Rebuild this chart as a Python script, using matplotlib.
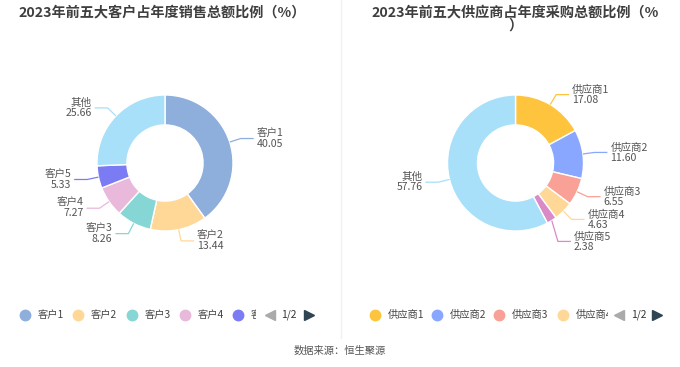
import numpy as np
import matplotlib
matplotlib.use("Agg")
import matplotlib.pyplot as plt
from matplotlib.lines import Line2D
from matplotlib.transforms import Bbox, TransformedBbox

plt.rcParams['font.family'] = ['Noto Sans CJK SC', 'DejaVu Sans']

# ---- data ----
left_title = "2023年前五大客户占年度销售总额比例（%）"
left_labels = ["客户1", "客户2", "客户3", "客户4", "客户5", "其他"]
left_values = [40.05, 13.44, 8.26, 7.27, 5.33, 25.66]
left_colors = ["#8eaedc", "#ffd898", "#86d6d6", "#e8b9db", "#7b7bf4", "#a8dff9"]

right_title = "2023年前五大供应商占年度采购总额比例（%\n）"
right_labels = ["供应商1", "供应商2", "供应商3", "供应商4", "供应商5", "其他"]
right_values = [17.08, 11.60, 6.55, 4.63, 2.38, 57.76]
right_colors = ["#ffc43d", "#89a7fe", "#f9a197", "#ffd898", "#d98ac7", "#a8dff9"]

source_text = "数据来源：恒生聚源"
page_text = "1/2"

W, H = 680, 367
fig = plt.figure(figsize=(W / 100, H / 100), dpi=100)
fig.patch.set_facecolor("white")

R_PX = 68.0
AX_PX = 200.0
LIM = AX_PX / 2 / R_PX


def px_to_fig(x, y):
    return x / W, 1 - y / H


def donut(cx, cy, values, labels, colors):
    l = (cx - AX_PX / 2) / W
    b = (H - cy - AX_PX / 2) / H
    ax = fig.add_axes([l, b, AX_PX / W, AX_PX / H])
    wedges, _ = ax.pie(values, colors=colors, startangle=90, counterclock=False,
                       radius=1.0, wedgeprops=dict(width=0.44, edgecolor="white", linewidth=1.0))
    ax.set_aspect("auto")
    ax.set_xlim(-LIM, LIM)
    ax.set_ylim(-LIM, LIM)
    ax.axis("off")
    total = sum(values)
    cum = 0
    items = []
    for v, lab, c in zip(values, labels, colors):
        mid = (cum + v / 2) / total
        cum += v
        ang = np.deg2rad(90 - mid * 360)
        ex, ey = np.cos(ang), np.sin(ang)
        elx, ely = 1.17 * ex, 1.17 * ey
        items.append(dict(ex=ex, ey=ey, elx=elx, ely=ely, lab=lab, v=v, c=c,
                          side=1 if ex >= 0 else -1))
    # simple overlap avoidance per side
    gap = 22 / R_PX
    for side in (1, -1):
        s = sorted([it for it in items if it["side"] == side], key=lambda d: -d["ely"])
        for i in range(1, len(s)):
            if s[i - 1]["ely"] - s[i]["ely"] < gap:
                s[i]["ely"] = s[i - 1]["ely"] - gap
    hl = 13 / R_PX
    for it in items:
        sd = it["side"]
        xs = [it["ex"], it["elx"], it["elx"] + sd * hl]
        ys = [it["ey"], it["ely"], it["ely"]]
        ax.plot(xs, ys, color=it["c"], lw=0.9, clip_on=False, solid_capstyle="butt")
        ax.text(xs[-1] + sd * 3 / R_PX, it["ely"], f"{it['lab']}\n{it['v']:.2f}",
                ha="left" if sd > 0 else "right", va="center", fontsize=7.6,
                color="#555555", linespacing=1.0, clip_on=False,
                multialignment="left" if sd > 0 else "right")
    return ax


donut(165, 163, left_values, left_labels, left_colors)
donut(515.5, 163, right_values, right_labels, right_colors)

# titles
fig.text(*px_to_fig(162, 12), left_title, ha="center", va="center", fontsize=10.2,
         fontweight="bold", color="#3f3f3f")
fig.text(*px_to_fig(515, 19), right_title, ha="center", va="center", fontsize=10.2,
         fontweight="bold", color="#3f3f3f", linespacing=0.95)

# divider
fig.add_artist(Line2D([341 / W, 341 / W], [1 - 0 / H, 1 - 338 / H], transform=fig.transFigure,
                      color="#f0f0f0", lw=1))


def legend(mark_x, text_dx, labels, colors, clip_right, arrow_l, page_x, arrow_r, y=315):
    for mx, lab, c in zip(mark_x, labels, colors):
        fig.add_artist(Line2D([mx / W], [1 - y / H], transform=fig.transFigure, marker="o",
                              markersize=7.5, color=c, markeredgecolor=c, linestyle="none"))
        t = fig.text((mx + text_dx) / W, 1 - y / H, lab, ha="left", va="center",
                     fontsize=7.4, color="#444444")
        bb = TransformedBbox(Bbox.from_extents(0, 0, clip_right / W, 1), fig.transFigure)
        t.set_clip_box(bb)
        t.set_clip_on(True)
    fig.add_artist(Line2D([arrow_l / W], [1 - y / H], transform=fig.transFigure, marker="<",
                          markersize=7, color="#aaaaaa", linestyle="none"))
    fig.text(page_x / W, 1 - y / H, page_text, ha="center", va="center", fontsize=7.4,
             color="#333333")
    fig.add_artist(Line2D([arrow_r / W], [1 - y / H], transform=fig.transFigure, marker=">",
                          markersize=7, color="#2f4554", linestyle="none"))


legend([25, 78, 132, 185, 238], 13, left_labels[:5], left_colors[:5], 256, 270, 289, 309)
legend([375, 437, 499, 563], 13, right_labels[:4], right_colors[:4], 608, 619, 639, 657)

fig.text(*px_to_fig(340, 351), source_text, ha="center", va="center", fontsize=7.4,
         color="#555555")

fig.savefig("out.png", dpi=100, facecolor="white")
